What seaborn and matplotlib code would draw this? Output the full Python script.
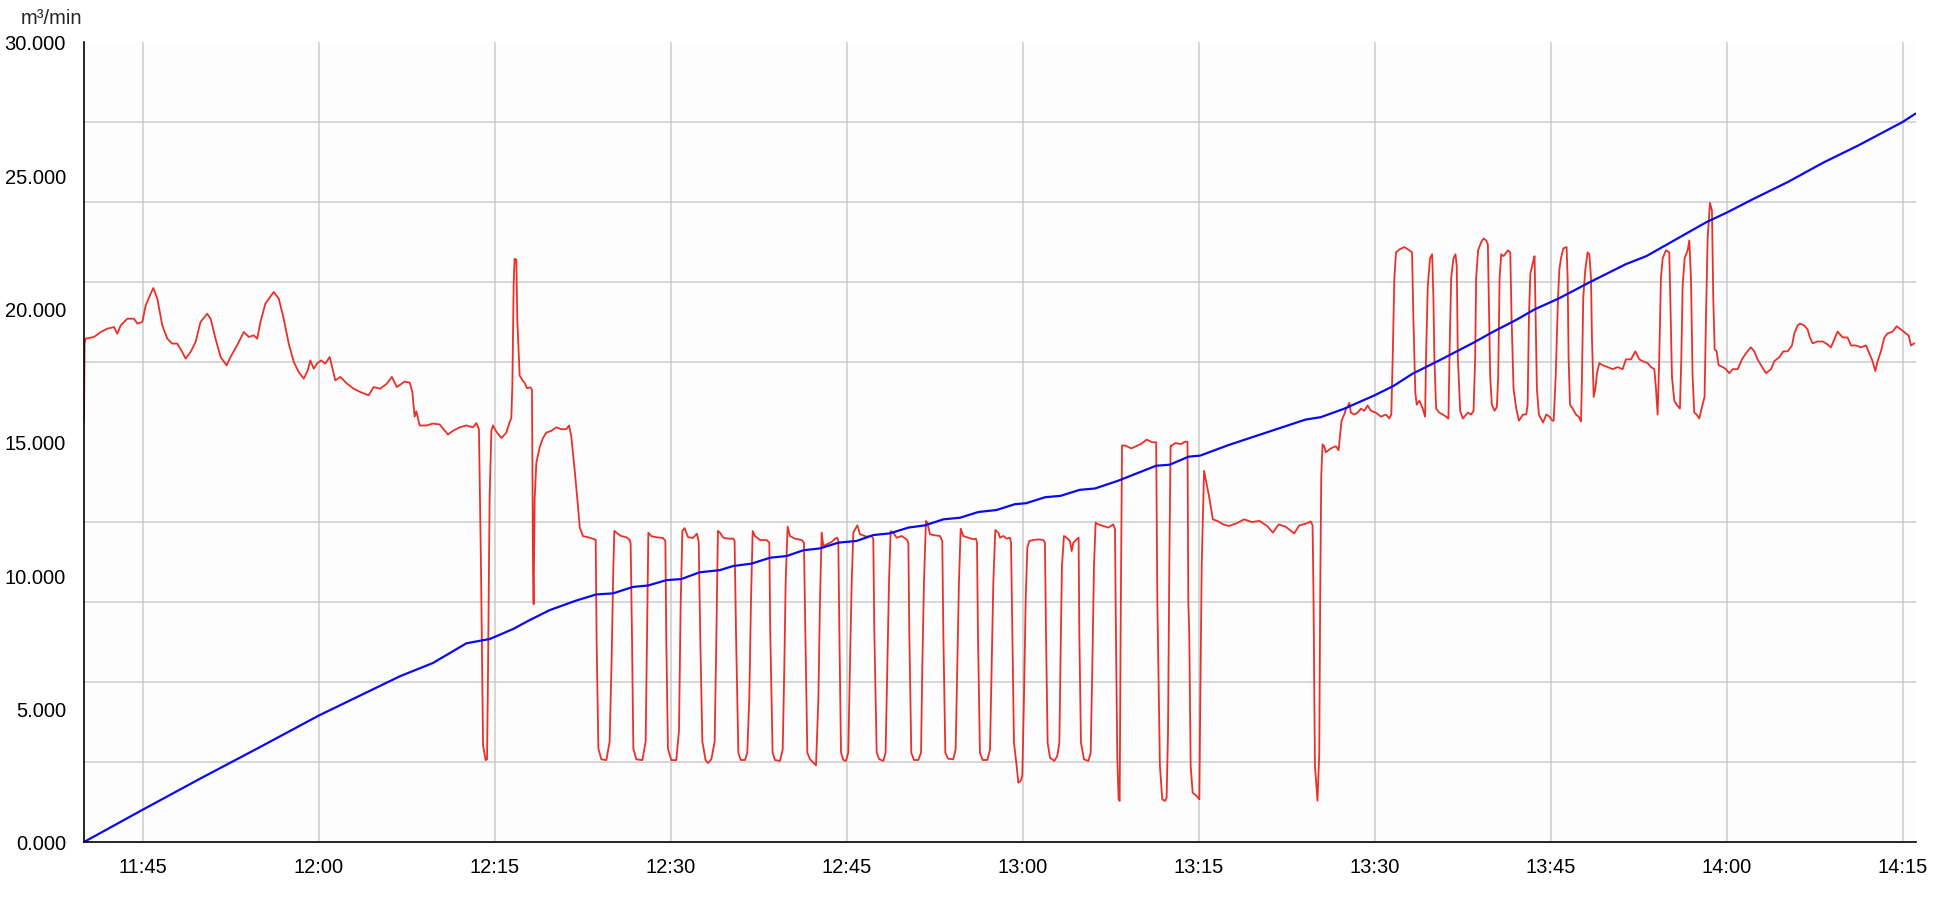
import pandas as pd
import matplotlib
matplotlib.use('Agg')
import matplotlib.pyplot as plt
import matplotlib.dates as mdates
from matplotlib.ticker import FuncFormatter, MultipleLocator
import seaborn as sns

START = pd.Timestamp("2024-01-01 11:40:00")
END_MINUTES = 156.14

# red series: flow in m³/min, minutes after 11:40
red_minutes = [
    0.00, 0.05, 0.15, 0.86, 1.43, 1.99, 2.56, 2.84, 3.13, 3.70, 4.26, 4.55, 4.97, 5.26, 5.68, 5.91,
    6.25, 6.67, 7.10, 7.52, 7.95, 8.37, 8.66, 9.08, 9.51, 9.93, 10.50, 10.79, 11.21, 11.64, 12.15,
    12.49, 13.05, 13.62, 14.05, 14.47, 14.76, 15.04, 15.46, 16.17, 16.60, 17.02, 17.45, 17.88, 18.30,
    18.73, 19.07, 19.29, 19.58, 19.86, 20.20, 20.57, 20.94, 21.42, 21.85, 22.41, 22.98, 23.55, 24.26,
    24.68, 25.25, 25.82, 26.24, 26.67,
    27.33, 27.76, 27.98, 28.18, 28.32, 28.61, 29.18, 29.74, 30.31, 31.02, 31.45, 32.02, 32.59, 33.15,
    33.44, 33.66, 33.84, 34.01, 34.23, 34.35, 34.43, 34.57, 34.72, 34.86, 35.14, 35.57, 35.99, 36.28,
    36.42, 36.51, 36.62, 36.70, 36.85, 36.93, 37.13, 37.41, 37.56, 37.76, 38.04, 38.18, 38.27, 38.32,
    38.41, 38.55, 38.84, 39.12, 39.40, 39.83, 40.26, 40.68, 41.11, 41.34, 41.53, 41.82, 42.10, 42.25,
    42.53, 42.95, 43.38, 43.61, 43.69, 43.84, 44.09, 44.52, 44.80, 44.97, 45.11, 45.20, 45.37, 45.80,
    46.22, 46.51, 46.59, 46.71, 46.82, 47.07, 47.59, 47.87, 47.98, 48.10, 48.35, 48.78, 49.35, 49.55,
    49.63, 49.77, 50.06, 50.48, 50.71, 50.85, 51.00, 51.19, 51.48, 51.90, 52.24, 52.39, 52.53, 52.70,
    52.98, 53.18, 53.47, 53.75, 53.89, 54.03,
    54.20, 54.49, 54.91, 55.34, 55.45, 55.57, 55.77, 55.97, 56.34, 56.53, 56.70, 56.85, 56.99, 57.19,
    57.61, 58.18, 58.41, 58.49, 58.69, 58.89, 59.32, 59.55, 59.69, 59.80, 59.97, 60.17, 60.60, 60.88,
    61.16, 61.36, 61.48, 61.65, 61.88, 62.39, 62.59, 62.73, 62.87, 63.01, 63.30, 63.72, 64.01, 64.20,
    64.29, 64.38, 64.52, 64.72, 64.94, 65.14, 65.28, 65.43, 65.57, 65.91, 66.14, 66.70, 67.13, 67.27,
    67.36, 67.56, 67.78, 68.13, 68.32, 68.47, 68.61, 68.75, 68.98, 69.26, 69.69, 70.11, 70.26, 70.34,
    70.51, 70.74, 71.11, 71.34, 71.45, 71.59, 71.76, 71.88, 72.10, 72.53, 72.95, 73.15, 73.24, 73.41,
    73.64, 74.09, 74.29, 74.43, 74.57, 74.72, 74.94, 75.37, 75.80, 76.02, 76.11, 76.19, 76.36, 76.59,
    76.99, 77.22, 77.36, 77.50, 77.67, 77.93,
    78.07, 78.35, 78.64, 78.92, 79.01, 79.12, 79.26, 79.49, 79.63, 79.83, 79.97, 80.11, 80.26, 80.40,
    80.57, 80.91, 81.34, 81.76, 81.90, 81.99, 82.13, 82.33, 82.70, 82.95, 83.13, 83.24, 83.35, 83.52,
    83.75, 84.03, 84.18, 84.32, 84.60, 84.77, 84.83, 84.97, 85.23, 85.60, 85.80, 85.94, 86.08, 86.22,
    86.45, 86.88, 87.30, 87.73, 87.87, 87.95, 88.07, 88.18, 88.27, 88.35, 88.47,
    88.77, 89.26, 89.75, 90.08, 90.57, 91.05, 91.38, 91.48, 91.70, 91.90, 92.13, 92.27, 92.39, 92.50,
    92.61, 92.69, 93.01, 93.50, 93.83, 94.05, 94.12, 94.20, 94.32, 94.49, 94.83, 95.06, 95.14, 95.26,
    95.46, 95.88, 96.21, 96.60, 97.09, 97.58, 98.23, 98.88, 99.53, 100.19, 100.84, 101.33, 101.82,
    102.43, 103.14, 103.57, 104.14, 104.56, 104.71, 104.79, 104.91, 105.13, 105.28, 105.36, 105.45,
    105.56, 105.70, 105.84, 106.27, 106.70, 106.93, 107.04, 107.18, 107.41, 107.56, 107.70, 107.84,
    107.98, 108.26, 108.55, 108.83, 109.12, 109.40, 109.69, 110.11, 110.54, 110.97, 111.25, 111.42,
    111.54, 111.68, 111.82, 112.11, 112.53, 112.96, 113.19, 113.30, 113.47, 113.59, 113.81, 114.10,
    114.30, 114.38, 114.53, 114.72, 114.90, 115.01, 115.09, 115.24, 115.52, 115.81, 116.09, 116.29,
    116.38, 116.52, 116.72, 116.89, 117.00, 117.09, 117.29, 117.51, 117.94, 118.23, 118.43, 118.57,
    118.65, 118.82, 119.08, 119.28, 119.51, 119.65, 119.73, 119.85, 119.99, 120.22, 120.42, 120.53,
    120.65, 120.79, 120.99, 121.36, 121.56, 121.67, 121.84, 122.07, 122.30, 122.64, 122.92, 123.04,
    123.15, 123.27, 123.49, 123.63, 123.72, 123.83, 124.00, 124.35, 124.63, 124.91, 125.14, 125.26,
    125.43, 125.63,
    125.74, 125.88, 126.08, 126.36, 126.45, 126.53, 126.65, 126.88, 127.16, 127.39, 127.59, 127.67,
    127.78, 127.95, 128.15, 128.30, 128.44, 128.52, 128.67, 128.81, 128.95, 129.15, 129.43, 129.86,
    130.28, 130.71, 131.14, 131.42, 131.85, 132.22, 132.56, 132.84, 133.27, 133.55, 133.84, 133.98,
    134.12, 134.26, 134.40, 134.55, 134.83, 135.11, 135.20, 135.34, 135.54, 135.74, 136.02, 136.14,
    136.25, 136.42, 136.68, 136.82, 136.96, 137.10, 137.24, 137.44, 137.67, 137.95, 138.12, 138.24,
    138.38, 138.58, 138.75, 138.86, 138.98, 139.15, 139.32, 139.66, 139.94, 140.23, 140.51, 140.94,
    141.31, 141.65, 142.07, 142.36, 142.64, 142.93, 143.35, 143.78, 144.06, 144.49, 144.83, 145.20,
    145.57, 145.77, 146.05, 146.25, 146.62, 146.90, 147.10, 147.33, 147.76, 148.18, 148.47, 148.89,
    149.18, 149.46, 149.89, 150.31, 150.60, 151.02, 151.45, 151.88, 152.16, 152.44, 152.67, 152.87,
    153.15, 153.44, 153.72, 154.15, 154.49, 154.86, 155.28, 155.51, 155.71, 155.99,
]
red_values = [
    15800, 18700, 18875, 18940, 19125, 19250, 19310, 19060, 19375, 19625, 19625, 19440, 19500, 20125, 20560, 20775,
    20375, 19375, 18875, 18690, 18690, 18375, 18125, 18375, 18750, 19500, 19810, 19625, 18875, 18190, 17875,
    18190, 18625, 19125, 18940, 19000, 18875, 19500, 20190, 20625, 20375, 19625, 18690, 18000, 17625,
    17375, 17690, 18060, 17750, 17940, 18060, 17940, 18190, 17310, 17440, 17190, 17000, 16875, 16750,
    17060, 17000, 17190, 17440, 17060,
    17265, 17225, 16890, 15950, 16150, 15620, 15620, 15690, 15660, 15280, 15420, 15550, 15620, 15550,
    15710, 15480, 10190, 3630, 3070, 3100, 6180, 12870, 15420, 15620, 15390, 15150, 15350, 15750,
    15890, 17160, 20910, 21870, 21840, 19570, 17490, 17290, 17220, 17020, 17050, 16960, 10190, 8920,
    12870, 14210, 14810, 15150, 15350, 15420, 15550, 15480, 15480, 15620, 15220, 13940, 12600, 11800,
    11470, 11430, 11370, 11330, 7520, 3500, 3100, 3070, 3770, 6850, 10190, 11670, 11600, 11470,
    11430, 11330, 11200, 7520, 3500, 3100, 3070, 3770, 7520, 11600, 11470, 11430, 11400, 11290,
    7520, 3500, 3070, 3070, 4170, 8860, 11670, 11770, 11430, 11400, 11560, 11270, 7520, 3770,
    3070, 2960, 3100, 3770, 7520, 11670,
    11600, 11410, 11375, 11375, 11290, 7850, 3350, 3075, 3075, 3350, 5350, 9100, 11660, 11475,
    11325, 11325, 11225, 7850, 3350, 3075, 3040, 3475, 6600, 9725, 11825, 11475, 11375, 11350,
    11325, 11225, 7850, 3350, 3100, 2875, 5350, 9100, 11600, 11100, 11160, 11250, 11375, 11410,
    11290, 7850, 3350, 3075, 3040, 3350, 6600, 9725, 11600, 11875, 11540, 11450, 11475, 11375,
    7850, 3350, 3100, 3040, 3350, 6600, 9725, 11660, 11600, 11410, 11475, 11350, 11225, 7850,
    3350, 3075, 3075, 3350, 6600, 9725, 12040, 11975, 11540, 11500, 11475, 11290, 7850, 3350,
    3125, 3100, 3475, 6600, 9725, 11750, 11475, 11410, 11350, 11375, 11225, 7850, 3350, 3075,
    3075, 3475, 6600, 9725, 11700, 11600,
    11410, 11475, 11375, 11410, 11225, 7850, 3725, 2850, 2225, 2290, 2475, 5350, 9100, 11040,
    11290, 11325, 11350, 11325, 11225, 7850, 3725, 3160, 3040, 3225, 3725, 7225, 10350, 11475,
    11410, 11290, 10910, 11225, 11350, 11410, 7850, 3725, 3100, 3040, 3350, 6600, 10350, 11975,
    11910, 11850, 11790, 11910, 11725, 7850, 3100, 1600, 1540, 7850, 14875,
    14860, 14760, 14860, 14925, 15090, 14990, 14990, 9000, 2850, 1600, 1540, 1660, 4100, 10350,
    14860, 14860, 14960, 14925, 15010, 15010, 9000, 7850, 2850, 1850, 1725, 1600, 5350, 10350,
    13920, 12980, 12100, 12040, 11910, 11850, 11950, 12100, 12000, 12040, 11850, 11600, 11910,
    11820, 11570, 11870, 11940, 12020, 11870, 9270, 2880, 1550, 3330, 9270, 13720,
    14910, 14840, 14610, 14760, 14840, 14690, 15210, 15800, 16030, 16250, 16320, 16470,
    16100, 16030, 16100, 16250, 16170, 16370, 16170, 16100, 15950, 16030, 15880, 16030,
    18180, 21150, 22110, 22220, 22310, 22190, 22110, 19660, 16840, 16400, 16550, 16250,
    15950, 18180, 20850, 21890, 22040, 20410, 18180, 16250, 16100, 16030, 15950, 15880,
    18180, 21150, 21890, 22040, 21590, 18180, 16170, 15880, 16100, 16030, 16170, 18180,
    21150, 22190, 22490, 22630, 22560, 22410, 20410, 17440, 16400, 16170, 16320, 17440,
    21150, 22040, 21970, 22190, 22110, 19660, 16990, 16250, 15800, 16030, 16030, 16400,
    19660, 21300, 21740, 21970, 19660, 16990, 16030, 15730, 16030, 15950, 15800, 15800,
    17440, 20410,
    21450, 21890, 22260, 22310, 21150, 18180, 16400, 16250, 16030, 15950, 15770, 17440,
    20410, 21450, 22110, 22040, 21150, 18920, 16690, 16990, 17580, 17960, 17880, 17810,
    17730, 17810, 17730, 18100, 18100, 18400, 18100, 18030, 17960, 17810, 17730, 16990,
    16030, 18180, 21150, 21890, 22190, 22110, 20410, 17440, 16550, 16400, 16250, 18180,
    20850, 21890, 22190, 22560, 21150, 17440, 16100, 16030, 15880, 16400, 16690, 19660,
    22630, 23970, 23670, 20410, 18480, 18400, 17880, 17810, 17730, 17580, 17730, 17730,
    18100, 18330, 18550, 18400, 18100, 17880, 17580, 17730, 18030, 18180, 18400, 18400,
    18620, 19070, 19370, 19440, 19370, 19220, 18920, 18700, 18770, 18770, 18700, 18550,
    18850, 19140, 18920, 18920, 18620, 18620, 18550, 18620, 18330, 18030, 17660, 18030,
    18400, 18920, 19070, 19140, 19340, 19220, 19070, 19000, 18620, 18700,
]

# blue series: running total, minutes after 11:40
blue_minutes = [
    0, 5, 10, 15, 20, 26.9, 29.74, 32.59, 33.86, 34.57, 35.14, 36.56, 37.98, 39.69, 41.96, 43.67,
    45.09, 46.79, 48.07, 49.63, 50.91, 52.47, 54.18, 55.34, 56.90, 58.47, 59.89, 61.31, 62.73,
    64.29, 65.85, 67.27, 68.69, 70.26, 71.68, 73.24, 74.66, 76.22, 77.78, 79.32, 80.29, 81.92,
    83.23, 84.86, 86.16, 88.12, 91.38, 92.52, 94.15, 95.13, 97.58, 100.84, 104.10, 105.40, 107.36,
    109.97, 111.60, 113.23, 115.51, 118.45, 120.08, 122.03, 123.66, 125.66, 128.37, 131.42, 133.18,
    136.19, 138.30, 140.0, 142.21, 145.22, 148.23, 151.24, 155.0, 156.1,
]
blue_values = [
    0, 1210, 2400, 3560, 4740, 6210, 6713, 7450, 7556, 7610, 7717, 7985, 8320, 8695, 9056, 9284,
    9324, 9565, 9618, 9819, 9860, 10114, 10194, 10350, 10440, 10660, 10725, 10940, 11010,
    11225, 11290, 11510, 11575, 11790, 11875, 12100, 12160, 12375, 12450, 12666, 12704, 12930,
    12980, 13206, 13256, 13545, 14110, 14147, 14450, 14490, 14890, 15365, 15840, 15930, 16240,
    16745, 17100, 17560, 18060, 18730, 19130, 19570, 19980, 20375, 21000, 21670, 21975,
    22725, 23250, 23600, 24100, 24750, 25475, 26125, 27000, 27315,
]

flow = pd.DataFrame({
    "time": START + pd.to_timedelta(red_minutes, unit="min"),
    "value": red_values,
})
total = pd.DataFrame({
    "time": START + pd.to_timedelta(blue_minutes, unit="min"),
    "value": blue_values,
})

sns.set_style("white")
plt.rcParams['font.family'] = ['Liberation Sans', 'DejaVu Sans']

fig = plt.figure(figsize=(19.54, 9.2), dpi=100)
ax = fig.add_axes([84 / 1954, 1 - 843 / 920, 1832 / 1954, 800 / 920])
ax.set_facecolor('#fdfdfd')

sns.lineplot(data=flow, x="time", y="value", color="#e8312a", linewidth=1.3,
             estimator=None, ax=ax)
sns.lineplot(data=total, x="time", y="value", color="#0a0af0", linewidth=1.6,
             estimator=None, ax=ax)

x_end = START + pd.Timedelta(minutes=END_MINUTES)
ax.set_xlim(START, x_end)
ax.set_ylim(0, 30000)
ax.set_xlabel("")
ax.set_ylabel("")

ax.xaxis.set_major_locator(mdates.MinuteLocator(byminute=[0, 15, 30, 45]))
ax.xaxis.set_major_formatter(mdates.DateFormatter('%H:%M'))
ax.set_xticks([mdates.date2num(START), mdates.date2num(x_end)], minor=True)
ax.yaxis.set_major_locator(MultipleLocator(5000))
ax.yaxis.set_minor_locator(MultipleLocator(3000))
ax.yaxis.set_major_formatter(FuncFormatter(lambda v, p: f"{v / 1000:.3f}"))

ax.set_axisbelow(True)
ax.grid(axis='x', which='major', color='#cccccc', linewidth=1.1)
ax.grid(axis='y', which='minor', color='#cccccc', linewidth=1.1)
ax.grid(axis='y', which='major', visible=False)

ax.tick_params(axis='both', which='major', length=8, width=1.2, color='black',
               labelsize=14.5, labelcolor='black')
ax.tick_params(axis='y', which='major', pad=5)
ax.tick_params(axis='x', which='major', pad=3)
ax.tick_params(axis='x', which='minor', length=8, width=1.2, color='black')
ax.tick_params(axis='y', which='minor', length=0)

for side in ['top', 'right']:
    ax.spines[side].set_visible(False)
for side in ['left', 'bottom']:
    ax.spines[side].set_color('black')
    ax.spines[side].set_linewidth(1.2)

fig.text(21 / 1954, 1 - 19 / 920, "m³/min", fontsize=14.5, va='center', ha='left')

fig.savefig("out.png", dpi=100)
plt.close(fig)
